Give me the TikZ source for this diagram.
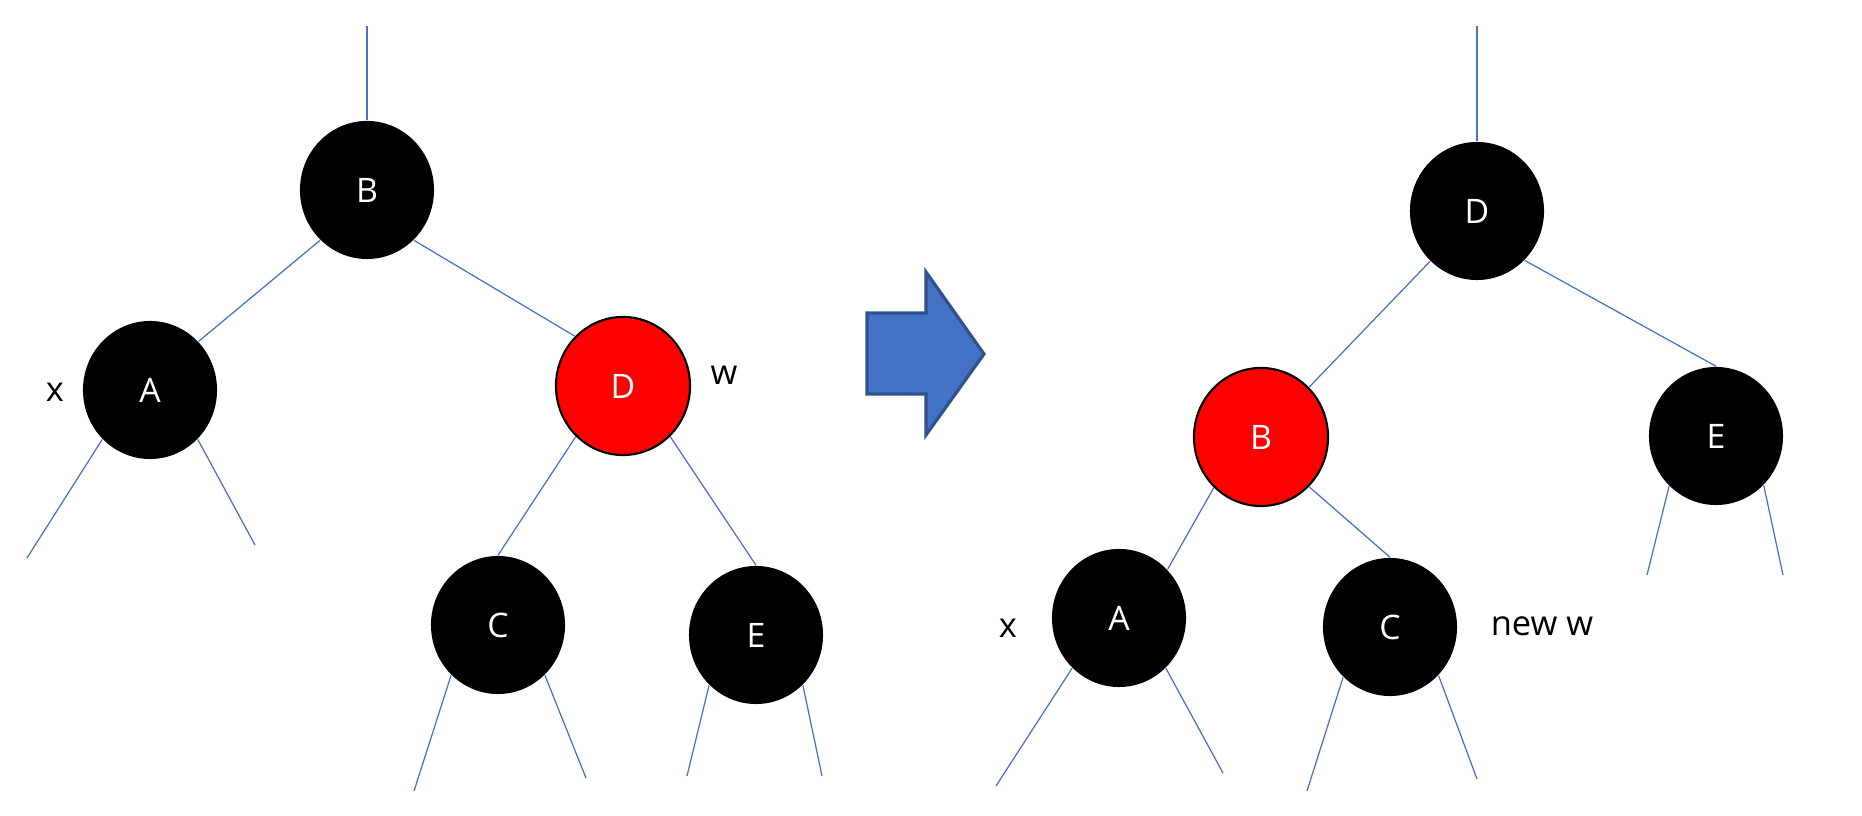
\documentclass[tikz,border=0pt]{standalone}
\usepackage{fontspec}
\setmainfont{Open Sans}
\usetikzlibrary{shapes.geometric, positioning}
\definecolor{edgeblue}{RGB}{68, 114, 196}
\definecolor{arrowrim}{RGB}{47, 82, 143}
\definecolor{rbred}{RGB}{255, 0, 0}

\tikzset{
    blackball/.style={ellipse, fill=black, text=white, minimum width=1.34cm, minimum height=1.38cm,
          inner sep=0pt, font=\fontsize{9.6}{11}\selectfont},
    redball/.style={blackball, fill=rbred, draw=black, line width=0.6pt},
    tag/.style={inner sep=0pt, font=\fontsize{9.8}{11}\selectfont},
    edge/.style={draw=edgeblue, line width=0.35pt}
}

\begin{document}
\begin{tikzpicture}[x=0.01cm, y=-0.01cm]
    \useasboundingbox (0,0) rectangle (1862,816);

    % before the rotation
    \node[blackball] (lB) at (367,190) {B};
    \node[blackball] (lA) at (150,390) {A};
    \node[redball]   (lD) at (623,386) {D};
    \node[blackball] (lC) at (498,625) {C};
    \node[blackball] (lE) at (756,635) {E};
    \node[tag] (lx) at (55,392) {x};
    \node[tag] (lw) at (724,375) {w};

    \coordinate (lroot) at (367,26);
    \coordinate (lA1) at (27,558);
    \coordinate (lA2) at (255,545);
    \coordinate (lC1) at (414,791);
    \coordinate (lC2) at (586,778);
    \coordinate (lE1) at (687,776);
    \coordinate (lE2) at (822,776);

    \draw[edge] (lroot) -- (lB.north);
    \draw[edge] (lB.227) -- (lA.45);
    \draw[edge] (lB.313) -- (lD.134);
    \draw[edge] (lD.227) -- (lC.north);
    \draw[edge] (lD.313) -- (lE.north);
    \draw[edge] (lA.226) -- (lA1);
    \draw[edge] (lA.314) -- (lA2);
    \draw[edge] (lC.227) -- (lC1);
    \draw[edge] (lC.313) -- (lC2);
    \draw[edge] (lE.227) -- (lE1);
    \draw[edge] (lE.313) -- (lE2);

    % block arrow
    \draw[fill=edgeblue, draw=arrowrim, line width=0.9pt, line join=miter]
        (867,313) -- (926,313) -- (926,272) -- (984,354) -- (926,435) -- (926,394) -- (867,394) -- cycle;

    % after the rotation
    \node[blackball] (rD) at (1477,211) {D};
    \node[redball]   (rB) at (1261,437) {B};
    \node[blackball] (rE) at (1716,436) {E};
    \node[blackball] (rA) at (1119,618) {A};
    \node[blackball] (rC) at (1390,627) {C};
    \node[tag] (rx) at (1008,628) {x};
    \node[tag] (rw) at (1542,626) {new w};

    \coordinate (rroot) at (1477,26);
    \coordinate (rA1) at (996,786);
    \coordinate (rA2) at (1223,773);
    \coordinate (rC1) at (1307,791);
    \coordinate (rC2) at (1477,779);
    \coordinate (rE1) at (1647,575);
    \coordinate (rE2) at (1783,575);

    \draw[edge] (rroot) -- (rD.north);
    \draw[edge] (rD.227) -- (rB.46);
    \draw[edge] (rD.314) -- (rE.north);
    \draw[edge] (rB.227) -- (rA.45);
    \draw[edge] (rB.314) -- (rC.north);
    \draw[edge] (rA.227) -- (rA1);
    \draw[edge] (rA.313) -- (rA2);
    \draw[edge] (rC.227) -- (rC1);
    \draw[edge] (rC.315) -- (rC2);
    \draw[edge] (rE.227) -- (rE1);
    \draw[edge] (rE.314) -- (rE2);
\end{tikzpicture}
\end{document}
